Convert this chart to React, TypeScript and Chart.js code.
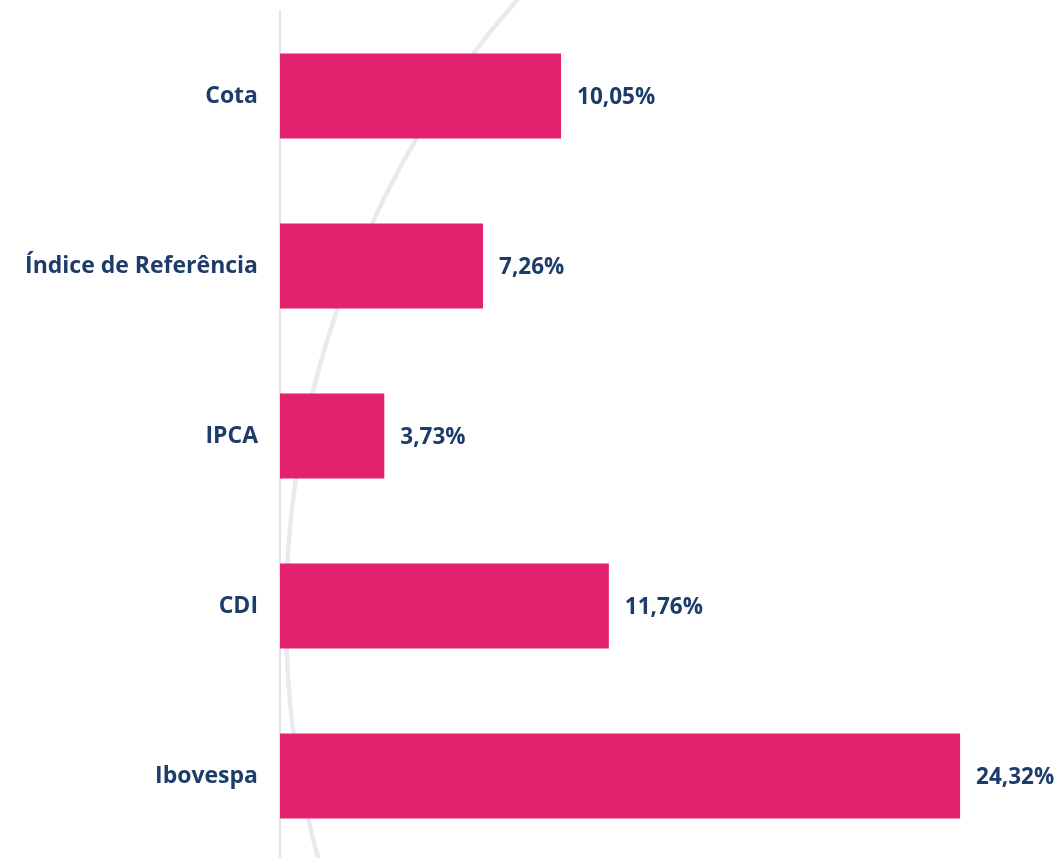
import React, { useEffect, useRef } from "react";
import { Chart, registerables } from "chart.js";

Chart.register(...registerables);

const categories = ["Cota", "Índice de Referência", "IPCA", "CDI", "Ibovespa"];
const values = [10.05, 7.26, 3.73, 11.76, 24.32];
const valueLabels = ["10,05%", "7,26%", "3,73%", "11,76%", "24,32%"];

const NAVY = "#1d3c6a";
const PINK = "#e3226f";
const FONT = "'Open Sans', sans-serif";

const arcPlugin = {
  id: "bgArc",
  beforeDatasetsDraw(chart: any) {
    const ctx = chart.ctx;
    ctx.save();
    ctx.strokeStyle = "#e9eaee";
    ctx.lineWidth = 4.5;
    ctx.beginPath();
    ctx.arc(1220, 615, 934, 0, Math.PI * 2);
    ctx.stroke();
    ctx.restore();
  },
};

const valuePlugin = {
  id: "valueLabels",
  afterDatasetsDraw(chart: any) {
    const ctx = chart.ctx;
    const meta = chart.getDatasetMeta(0);
    ctx.save();
    ctx.fillStyle = NAVY;
    ctx.font = `bold 22.5px ${FONT}`;
    ctx.textAlign = "left";
    ctx.textBaseline = "middle";
    meta.data.forEach((bar: any, i: number) => {
      ctx.fillText(valueLabels[i], bar.x + 16, bar.y + 2);
    });
    ctx.restore();
  },
};

export default function App() {
  const ref = useRef<HTMLCanvasElement>(null);
  useEffect(() => {
    document.body.style.margin = "0";
    document.body.style.overflow = "hidden";
    const chart = new Chart(ref.current!, {
      type: "bar",
      data: {
        labels: categories,
        datasets: [
          {
            data: values,
            backgroundColor: PINK,
            barPercentage: 0.5,
            categoryPercentage: 1,
          },
        ],
      },
      options: {
        indexAxis: "y",
        animation: false,
        responsive: false,
        layout: { padding: { top: 11, bottom: 9, left: 0, right: 0 } },
        plugins: { legend: { display: false }, tooltip: { enabled: false } },
        scales: {
          x: { display: false, min: 0, max: 28 },
          y: {
            afterFit(scale: any) {
              scale.width = 280;
              scale.paddingTop = 0;
              scale.paddingBottom = 0;
            },
            grid: { display: false, drawTicks: false },
            border: { display: true, color: "#e3e3e6", width: 2 },
            ticks: {
              padding: 22,
              color: NAVY,
              font: { family: FONT, size: 23, weight: "bold" },
            },
          },
        },
      },
      plugins: [arcPlugin, valuePlugin],
    });
    return () => chart.destroy();
  }, []);
  return (
    <div style={{ width: 1063, height: 870 }}>
      <canvas ref={ref} width={1063} height={870} style={{ display: "block" }} />
    </div>
  );
}
